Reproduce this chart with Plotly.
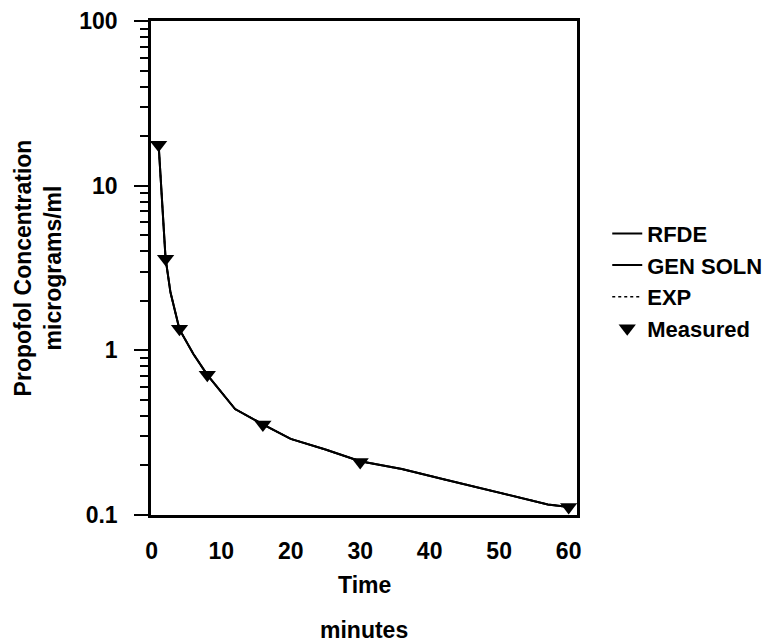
import plotly.graph_objects as go

# Measured propofol concentrations
measured_time = [1, 2, 4, 8, 16, 30, 60]
measured_conc = [17.7, 3.6, 1.35, 0.71, 0.355, 0.21, 0.112]

# Model curves (the three curves overlap)
curve_time = [1, 1.3, 1.6, 2, 2.7, 4, 6, 8, 12, 16, 20, 25, 30, 36, 42, 47, 53, 57, 60]
rfde_conc = [17.7, 10.5, 7.0, 3.6, 2.25, 1.34, 0.95, 0.71, 0.44, 0.355, 0.29, 0.25,
             0.212, 0.19, 0.165, 0.147, 0.128, 0.116, 0.112]
gen_soln_conc = [17.7, 10.5, 7.0, 3.6, 2.25, 1.34, 0.95, 0.71, 0.44, 0.355, 0.29, 0.25,
                 0.212, 0.19, 0.165, 0.147, 0.128, 0.116, 0.112]
exp_conc = [17.7, 10.5, 7.0, 3.6, 2.25, 1.34, 0.95, 0.71, 0.44, 0.355, 0.29, 0.25,
            0.212, 0.19, 0.165, 0.147, 0.128, 0.116, 0.112]

x_ticks = [0, 10, 20, 30, 40, 50, 60]
y_ticks = [0.1, 1, 10, 100]
y_tick_labels = ["<b>0.1</b>", "<b>1</b>", "<b>10</b>", "<b>100</b>"]
x_tick_labels = ["<b>0</b>", "<b>10</b>", "<b>20</b>", "<b>30</b>", "<b>40</b>", "<b>50</b>", "<b>60</b>"]

FONT = "Liberation Sans, Arial, sans-serif"
fsz = 23

fig = go.Figure()
fig.add_trace(go.Scatter(x=curve_time, y=rfde_conc, mode="lines", name="<b>RFDE</b>",
                         line=dict(color="black", width=2)))
fig.add_trace(go.Scatter(x=curve_time, y=gen_soln_conc, mode="lines", name="<b>GEN SOLN</b>",
                         line=dict(color="black", width=2)))
fig.add_trace(go.Scatter(x=curve_time, y=exp_conc, mode="lines", name="<b>EXP</b>",
                         line=dict(color="black", width=1.5, dash="dot")))
fig.add_trace(go.Scatter(x=measured_time, y=measured_conc, mode="markers", name="<b>Measured</b>",
                         marker=dict(symbol="triangle-down", size=15, color="black")))

fig.update_layout(
    width=774, height=636,
    margin=dict(l=143, r=205, t=13, b=129, autoexpand=False),
    plot_bgcolor="white", paper_bgcolor="white",
    font=dict(family=FONT, size=fsz, color="black"),
    showlegend=True,
    legend=dict(x=1.071, y=0.612, xanchor="left", yanchor="top",
                font=dict(family=FONT, size=22, color="black"),
                bgcolor="rgba(0,0,0,0)", tracegroupgap=0),
    xaxis=dict(range=[-0.1, 61.2], tickvals=x_ticks, ticktext=x_tick_labels, ticks="",
               showgrid=False, automargin=False,
               zeroline=False, showline=True, linecolor="black", linewidth=2.5,
               mirror=True, ticklabelstandoff=14,
               tickfont=dict(family=FONT, size=fsz)),
    yaxis=dict(type="log", range=[-1, 2], tickvals=y_ticks, ticktext=y_tick_labels,
               ticks="outside", ticklen=14, tickwidth=2, tickcolor="black",
               minor=dict(ticks="outside", ticklen=8, tickwidth=2, tickcolor="black",
                          dtick="D1", showgrid=False),
               showgrid=False, zeroline=False, showline=True, linecolor="black",
               linewidth=2.5, mirror=True, ticklabelstandoff=12, automargin=False,
               tickfont=dict(family=FONT, size=fsz),
               title=dict(text="<b>Propofol Concentration</b><br><b>micrograms/ml</b>",
                          standoff=12, font=dict(family=FONT, size=fsz))),
    annotations=[
        dict(text="<b>Time</b>", xref="paper", yref="paper", x=0.5, y=-0.1417,
             xanchor="center", yanchor="middle", showarrow=False,
             font=dict(family=FONT, size=fsz)),
        dict(text="<b>minutes</b>", xref="paper", yref="paper", x=0.5, y=-0.2328,
             xanchor="center", yanchor="middle", showarrow=False,
             font=dict(family=FONT, size=fsz)),
    ],
)

fig.write_html("out.html")
